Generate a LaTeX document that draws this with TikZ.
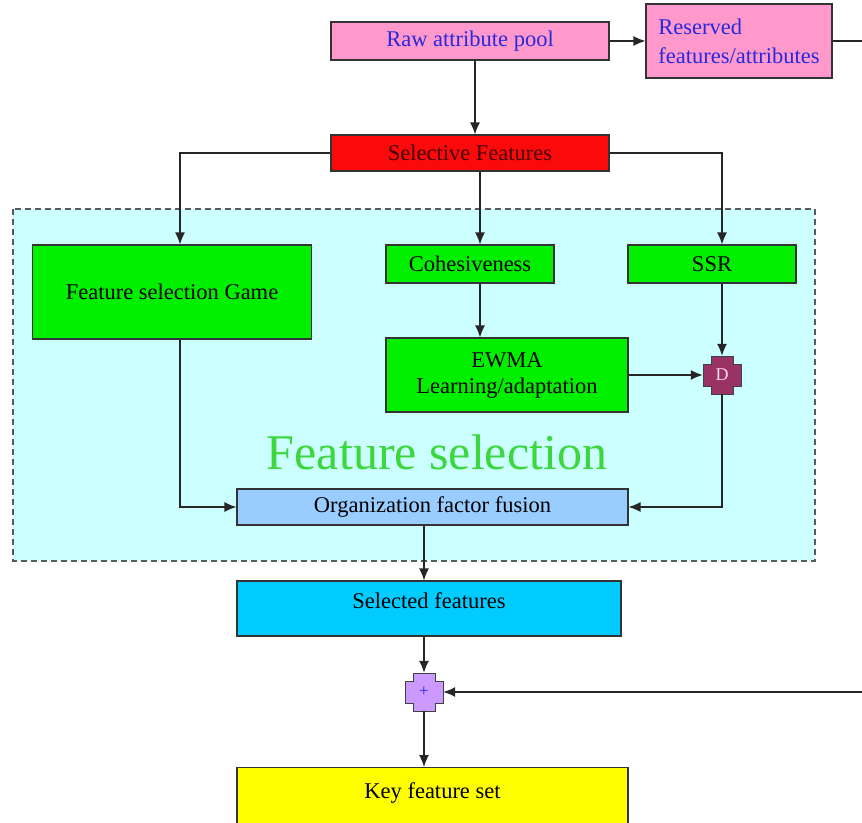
\documentclass[tikz,border=0pt]{standalone}
\usepackage{fontspec}
\setmainfont{Liberation Serif}
\usetikzlibrary{arrows.meta,calc}

\definecolor{poolpink}{RGB}{255,153,204}
\definecolor{poolblue}{RGB}{40,40,220}
\definecolor{selred}{RGB}{250,10,10}
\definecolor{fsgreen}{RGB}{0,240,0}
\definecolor{regioncyan}{RGB}{204,255,255}
\definecolor{titlegreen}{RGB}{60,215,60}
\definecolor{fusionblue}{RGB}{153,204,255}
\definecolor{outblue}{RGB}{0,204,255}
\definecolor{keyyellow}{RGB}{255,255,0}
\definecolor{dmaroon}{RGB}{153,51,102}
\definecolor{pluslilac}{RGB}{204,153,255}

\tikzset{
  box/.style={draw=black!80, line width=1.1pt, inner sep=3pt, minimum height=38pt},
  arr/.style={-{Latex[length=12pt,width=10pt]}, line width=1.3pt, draw=black!85},
  crossbox/.style={minimum size=38pt, inner sep=0pt}
}

% stepped cross drawn round a point
\newcommand{\crossat}[2]{%
  \filldraw[fill=#2, draw=black!75, line width=0.9pt, shift={(#1)}]
    (-19,-11) -- (-11,-11) -- (-11,-19) -- (11,-19) -- (11,-11) -- (19,-11)
    -- (19,11) -- (11,11) -- (11,19) -- (-11,19) -- (-11,11) -- (-19,11) -- cycle;}

\begin{document}
\begin{tikzpicture}[x=1pt, y=-1pt, every node/.style={font=\fontsize{22.5}{27}\selectfont}]
  \useasboundingbox (0,0) rectangle (862,822);
  \clip (0,0) rectangle (862,822);

  % feature selection region
  \draw[dashed, dash pattern=on 6pt off 4pt, line width=1.2pt, draw=black!65, fill=regioncyan]
    (13,209) rectangle (815,561);
  \node[text=titlegreen, font=\fontsize{50}{52}\selectfont] (title) at (437,452) {Feature selection};

  % attribute pools
  \node[box, fill=poolpink, text=poolblue, minimum width=278pt] (raw) at (470,41) {Raw attribute pool};
  \node[box, fill=poolpink, text=poolblue, minimum width=186pt, minimum height=74pt,
        align=left, font=\fontsize{22.5}{29}\selectfont] (res) at (739,41) {Reserved\\features/attributes};
  \node[box, fill=selred, text={rgb,255:red,70;green,0;blue,0}, minimum width=278pt, minimum height=36pt]
    (sel) at (470,153) {Selective Features};

  % selection branches
  \node[box, fill=fsgreen, minimum width=279pt, minimum height=94pt] (game) at (172,292) {Feature selection Game};
  \node[box, fill=fsgreen, minimum width=168pt] (coh) at (470,264) {Cohesiveness};
  \node[box, fill=fsgreen, minimum width=168pt] (ssr) at (712,264) {SSR};
  \node[box, fill=fsgreen, minimum width=242pt, minimum height=74pt, align=center,
        font=\fontsize{22.5}{26}\selectfont] (ewma) at (507,375) {EWMA\\Learning/adaptation};
  \crossat{722,375}{dmaroon}
  \node[crossbox, text={rgb,255:red,250;green,215;blue,230}, font=\fontsize{18}{18}\selectfont] (dj) at (722,375) {D};

  % fusion and output
  \node[box, fill=fusionblue, minimum width=391pt, minimum height=36pt] (org) at (432.5,507) {Organization factor fusion};
  \node[box, fill=outblue, minimum width=384pt, text height=22pt, text depth=23pt, inner ysep=5pt,
        minimum height=0pt] (out) at (429,608.5) {Selected features};
  \crossat{424,692}{pluslilac}
  \node[crossbox, text=poolblue, font=\fontsize{17}{17}\selectfont] (plus) at (424,692) {+};
  \node[box, fill=keyyellow, minimum width=391pt, text height=26pt, text depth=44pt, inner ysep=5pt,
        anchor=north] (key) at (432.5,767) {Key feature set};
  \coordinate (loop) at (885,692);

  % connectors
  \draw[arr] (raw) -- (res);
  \draw[arr] (res.east) -| (loop) -- (plus);
  \draw[arr] ($(raw.south)+(5,0)$) -- ($(sel.north)+(5,0)$);
  \draw[arr] (sel.west) -| ($(game.north)+(8,0)$);
  \draw[arr] ($(sel.south)+(10,0)$) -- ($(coh.north)+(10,0)$);
  \draw[arr] (sel.east) -| (ssr.north -| dj);
  \draw[arr] ($(coh.south)+(10,0)$) -- ($(coh.south |- ewma.north)+(10,0)$);
  \draw[arr] (ssr.south -| dj) -- (dj);
  \draw[arr] (ewma) -- (dj);
  \draw[arr] (dj.south) |- (org.east);
  \draw[arr] ($(game.south)+(8,0)$) |- (org.west);
  \draw[arr] (org.south -| plus) -- (out.north -| plus);
  \draw[arr] (out.south -| plus) -- (plus);
  \draw[arr] (plus) -- (key.north -| plus);
\end{tikzpicture}
\end{document}
